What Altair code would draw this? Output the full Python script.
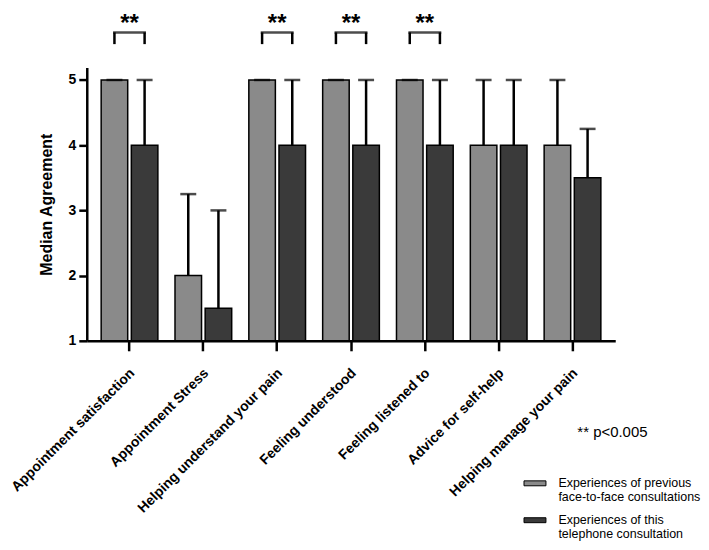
import altair as alt
import pandas as pd

# ---- data ----
categories = [
    "Appointment satisfaction",
    "Appointment Stress",
    "Helping understand your pain",
    "Feeling understood",
    "Feeling listened to",
    "Advice for self-help",
    "Helping manage your pain",
]
series_names = [
    "Experiences of previous face-to-face consultations",
    "Experiences of this telephone consultation",
]
legend_lines = [
    ["Experiences of previous", "face-to-face consultations"],
    ["Experiences of this", "telephone consultation"],
]
previous_median = [5, 2, 5, 5, 5, 4, 4]
previous_upper = [5, 3.25, 5, 5, 5, 5, 5]
telephone_median = [4, 1.5, 4, 4, 4, 4, 3.5]
telephone_upper = [5, 3, 5, 5, 5, 5, 4.25]
significant = [True, False, True, True, True, False, False]
sig_label = "**"
note_text = "** p<0.005"
y_ticks = [1, 2, 3, 4, 5]

rows = []
for i, c in enumerate(categories):
    rows.append(dict(category=c, series=series_names[0], median=previous_median[i],
                     upper=previous_upper[i], sig=significant[i]))
    rows.append(dict(category=c, series=series_names[1], median=telephone_median[i],
                     upper=telephone_upper[i], sig=significant[i]))
df = pd.DataFrame(rows)
sig_df = df[df["sig"]].copy()
sig_cats = pd.DataFrame({"category": [c for c, s in zip(categories, significant) if s]})
note_df = pd.DataFrame({"t": [note_text]})

FONT = "Liberation Sans"
BRACKET_Y = 5.73
LEG_Y = 5.55
STAR_Y = 5.745

x_scale = alt.Scale(paddingInner=0.232, paddingOuter=0.195)
x_axis = alt.Axis(title=None, labelAngle=-45, labelFontSize=14, labelFontWeight="bold",
                  labelPadding=15, labelOffset=-2, tickSize=10, tickWidth=2.5,
                  domainWidth=2.5, labelLimit=400, labelColor="black",
                  domainColor="black", tickColor="black", labelFont=FONT)
y_scale = alt.Scale(domain=[1, 5.19], nice=False, zero=False)
y_axis = alt.Axis(title="Median Agreement", values=y_ticks, format="d",
                  labelFontSize=14, labelFontWeight="bold", labelPadding=3,
                  tickSize=8, tickWidth=2.5, domainWidth=2.5, labelColor="black",
                  domainColor="black", tickColor="black", titleFontSize=16,
                  titleFontWeight="bold", titleColor="black", titlePadding=14,
                  labelFont=FONT, titleFont=FONT)


def xenc():
    return alt.X("category:N", sort=categories, scale=x_scale, axis=x_axis)


def xoff():
    return alt.XOffset("series:N", sort=series_names,
                       scale=alt.Scale(paddingInner=0.12, paddingOuter=0))


def yenc(field):
    return alt.Y(field, scale=y_scale, axis=y_axis, title="Median Agreement")


label_expr = ("datum.label == '%s' ? ['%s', '%s'] : ['%s', '%s']" % (
    series_names[0], legend_lines[0][0], legend_lines[0][1],
    legend_lines[1][0], legend_lines[1][1]))

bars = alt.Chart(df).mark_bar(stroke="black", strokeWidth=1.5).encode(
    x=xenc(), xOffset=xoff(), y=yenc("median:Q"), y2=alt.datum(1),
    fill=alt.Fill("series:N", sort=series_names,
                  scale=alt.Scale(domain=series_names, range=["#8a8a8a", "#3a3a3a"]),
                  legend=alt.Legend(title=None, orient="none", legendX=438, legendY=409,
                                    symbolType="M-1,-0.55H1V-0.1H-1Z", symbolSize=484,
                                    symbolStrokeColor="black", symbolStrokeWidth=1,
                                    labelFontSize=12.5, labelFont=FONT, labelColor="black",
                                    labelBaseline="alphabetic", labelOffset=12,
                                    rowPadding=8, padding=0, labelLimit=400,
                                    labelExpr=label_expr)),
)

errs = alt.Chart(df).mark_rule(color="black", strokeWidth=2.5).encode(
    x=xenc(), xOffset=xoff(), y=yenc("median:Q"), y2="upper:Q")

caps = alt.Chart(df).mark_tick(color="black", thickness=2.5, size=16).encode(
    x=xenc(), xOffset=xoff(), y=yenc("upper:Q"))

legs = alt.Chart(sig_df).mark_rule(color="black", strokeWidth=2.5).encode(
    x=xenc(), xOffset=xoff(), y=alt.datum(LEG_Y), y2=alt.datum(BRACKET_Y))

btop = alt.Chart(sig_cats).mark_tick(color="black", thickness=2.5, size=33).encode(
    x=xenc(), y=alt.datum(BRACKET_Y))

stars = alt.Chart(sig_cats).mark_text(text=sig_label, fontSize=24, fontWeight="bold",
                                      baseline="alphabetic", align="center",
                                      color="black", font=FONT).encode(
    x=xenc(), y=alt.datum(STAR_Y))

note = alt.Chart(note_df).mark_text(align="left", baseline="alphabetic", fontSize=15,
                                    color="black", font=FONT).encode(
    x=alt.value(492), y=alt.value(370), text="t:N")

chart = alt.layer(bars, errs, caps, legs, btop, stars, note).properties(
    width=530, height=274, padding={"top": 3, "left": 0, "right": 0, "bottom": 0}
).configure_view(stroke=None).configure_axis(grid=False)

chart.save("out.html", embed_options={"renderer": "svg", "actions": False})
